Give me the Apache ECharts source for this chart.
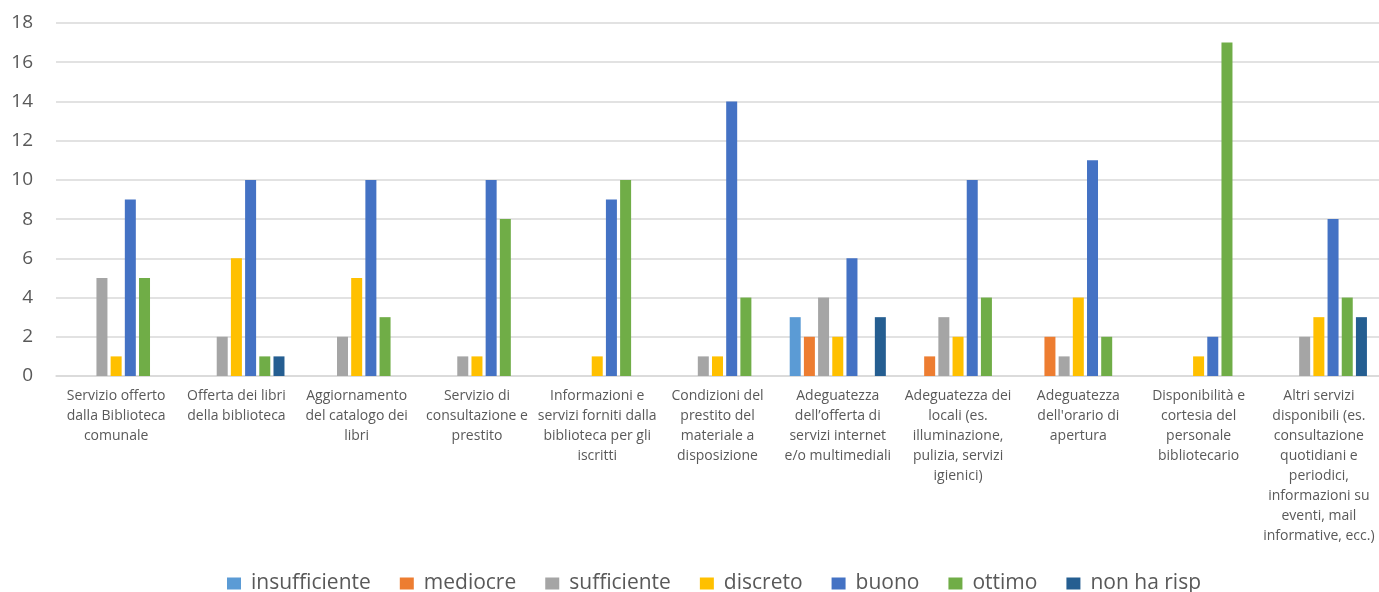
<!DOCTYPE html>
<html lang="it">
<head>
    <meta charset="UTF-8">
    <title>Gradimento servizi biblioteca</title>
    <style>
        html, body { margin: 0; padding: 0; background: #fff; }
        #chart { width: 1379px; height: 592px; }
    </style>
</head>
<body>
<div id="chart"></div>
<script src="https://cdn.jsdelivr.net/npm/echarts@6/dist/echarts.min.js"></script>
<script>
// categorie (asse x), con gli a capo come nel grafico originale
var categorie = [
  'Servizio offerto\ndalla Biblioteca\ncomunale',
  'Offerta dei libri\ndella biblioteca',
  'Aggiornamento\ndel catalogo dei\nlibri',
  'Servizio di\nconsultazione e\nprestito',
  'Informazioni e\nservizi forniti dalla\nbiblioteca per gli\niscritti',
  'Condizioni del\nprestito del\nmateriale a\ndisposizione',
  'Adeguatezza\ndell\u2019offerta di\nservizi internet\ne/o multimediali',
  'Adeguatezza dei\nlocali (es.\nilluminazione,\npulizia, servizi\nigienici)',
  'Adeguatezza\ndell\'orario di\napertura',
  'Disponibilità e\ncortesia del\npersonale\nbibliotecario',
  'Altri servizi\ndisponibili (es.\nconsultazione\nquotidiani e\nperiodici,\ninformazioni su\neventi, mail\ninformative, ecc.)'
];

var insufficiente = [0, 0, 0, 0, 0, 0, 3, 0, 0, 0, 0];
var mediocre      = [0, 0, 0, 0, 0, 0, 2, 1, 2, 0, 0];
var sufficiente   = [5, 2, 2, 1, 0, 1, 4, 3, 1, 0, 2];
var discreto      = [1, 6, 5, 1, 1, 1, 2, 2, 4, 1, 3];
var buono         = [9, 10, 10, 10, 9, 14, 6, 10, 11, 2, 8];
var ottimo        = [5, 1, 3, 8, 10, 4, 0, 4, 2, 17, 4];
var nonHaRisp     = [0, 1, 0, 0, 0, 0, 3, 0, 0, 0, 3];

var nomiSerie = ['insufficiente', 'mediocre', 'sufficiente', 'discreto', 'buono', 'ottimo', 'non ha risp'];
var colori = ['#5B9BD5', '#ED7D31', '#A5A5A5', '#FFC000', '#4472C4', '#70AD47', '#255E91'];
var valori = [insufficiente, mediocre, sufficiente, discreto, buono, ottimo, nonHaRisp];

var font = '"Open Sans", sans-serif';

var chart = echarts.init(document.getElementById('chart'));
chart.setOption({
  animation: false,
  color: colori,
  grid: {left: 56, right: -2, top: 23, bottom: 216, containLabel: false},
  legend: {
    top: 568,
    left: 222,
    itemWidth: 14,
    itemHeight: 12,
    itemGap: 29,
    icon: 'rect',
    textStyle: {fontSize: 21, color: '#595959', fontFamily: font, padding: [0, 0, 0, 5]}
  },
  xAxis: {
    type: 'category',
    data: categorie,
    axisTick: {show: false},
    axisLine: {lineStyle: {color: '#D9D9D9', width: 1.5}},
    axisLabel: {
      interval: 0,
      color: '#595959',
      fontSize: 14,
      lineHeight: 20,
      fontFamily: font,
      margin: 10
    }
  },
  yAxis: {
    type: 'value',
    min: 0,
    max: 18,
    interval: 2,
    axisLine: {show: false},
    axisTick: {show: false},
    splitLine: {lineStyle: {color: '#D9D9D9', width: 1.5}},
    axisLabel: {color: '#595959', fontSize: 19, fontFamily: font, margin: 23}
  },
  series: nomiSerie.map(function (n, i) {
    return {
      name: n,
      type: 'bar',
      data: valori[i],
      barWidth: 11,
      barGap: '29%'
    };
  })
});
</script>
</body>
</html>
